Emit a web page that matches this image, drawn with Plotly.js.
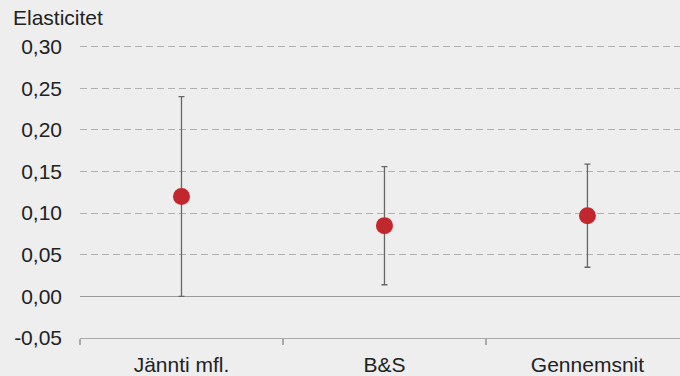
<!DOCTYPE html>
<html>
<head>
<meta charset="utf-8">
<script src="https://cdn.plot.ly/plotly-3.0.1.min.js"></script>
<style>html,body{margin:0;padding:0;background:#eeeeee;}#chart{width:680px;height:376px;}</style>
</head>
<body>
<div id="chart"></div>
<script>
const categories = ["Jännti mfl.", "B&S", "Gennemsnit"];
const estimates = [0.12, 0.085, 0.097];
const upper = [0.24, 0.156, 0.159];
const lower = [0.0, 0.014, 0.035];
const yTickVals = [-0.05, 0, 0.05, 0.10, 0.15, 0.20, 0.25, 0.30];
const yTickText = ["-0,05", "0,00", "0,05", "0,10", "0,15", "0,20", "0,25", "0,30"];

const trace = {
  type: "scatter",
  mode: "markers",
  x: categories,
  y: estimates,
  marker: {color: "#c1272d", size: 17},
  error_y: {
    type: "data",
    symmetric: false,
    array: upper.map((u, i) => u - estimates[i]),
    arrayminus: lower.map((l, i) => estimates[i] - l),
    color: "#666666",
    thickness: 1.3,
    width: 3
  },
  hoverinfo: "skip"
};

const layout = {
  width: 680, height: 376,
  paper_bgcolor: "#eeeeee", plot_bgcolor: "#eeeeee",
  margin: {l: 80, r: 0, t: 45, b: 38},
  font: {family: "Liberation Sans, Arial, sans-serif", size: 21, color: "#222222"},
  showlegend: false,
  xaxis: {
    type: "category",
    range: [-0.5, 2.456],
    tickson: "boundaries",
    ticks: "outside", ticklen: 6, tickcolor: "#aaaaaa", tickwidth: 1.3,
    showline: true, linecolor: "#aaaaaa", linewidth: 1.3,
    showgrid: false, zeroline: false,
    ticklabelstandoff: 7,
    tickfont: {size: 21, color: "#222222"}
  },
  yaxis: {
    range: [-0.05, 0.302],
    tickvals: yTickVals, ticktext: yTickText,
    showgrid: true, gridcolor: "#b0b0b0", gridwidth: 1, griddash: "7px,4px",
    zeroline: true, zerolinecolor: "#9a9a9a", zerolinewidth: 1.3,
    showline: false, ticks: "",
    ticklabelstandoff: 17,
    tickfont: {size: 21, color: "#222222"}
  },
  annotations: [{
    text: "Elasticitet",
    xref: "paper", yref: "paper",
    x: (11 - 80) / 600, y: (338 - 17.5) / 293,
    xanchor: "left", yanchor: "middle",
    showarrow: false,
    font: {size: 21, color: "#222222"}
  }]
};

Plotly.newPlot("chart", [trace], layout, {displayModeBar: false, staticPlot: true});
</script>
</body>
</html>
